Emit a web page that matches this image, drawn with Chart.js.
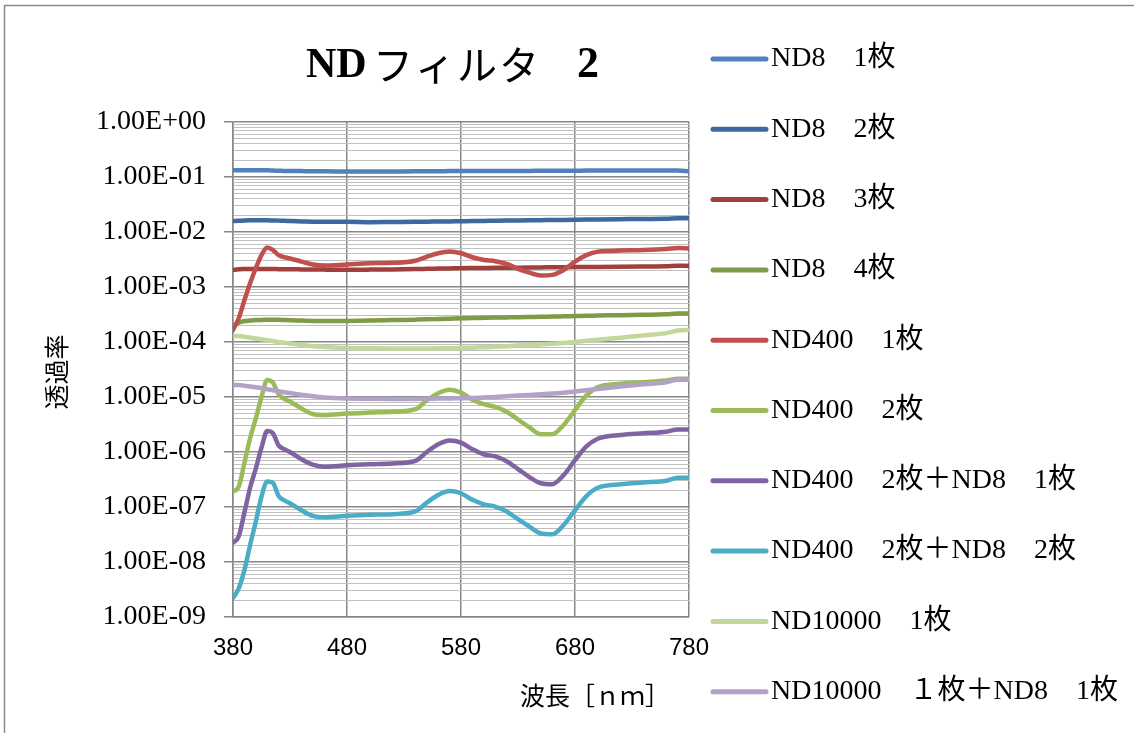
<!DOCTYPE html>
<html lang="ja">
<head>
<meta charset="utf-8">
<title>NDフィルタ2</title>
<script src="https://cdn.jsdelivr.net/npm/chart.js@4.4.1/dist/chart.umd.min.js"></script>
<style>
  html, body { margin: 0; padding: 0; background: #fff; }
</style>
</head>
<body>
<canvas id="ndChart" width="1134" height="733"></canvas>
<script>
// wavelength [nm]
const wavelengths = [380, 385, 390, 395, 400, 405, 410, 415, 420, 425, 430, 440, 450, 460, 480, 500, 520, 540, 550, 560, 570, 580, 590, 600, 610, 620, 630, 640, 650, 660, 670, 680, 690, 700, 720, 740, 760, 770, 780];

const seriesNames = [
  "ND8　1枚",
  "ND8　2枚",
  "ND8　3枚",
  "ND8　4枚",
  "ND400　1枚",
  "ND400　2枚",
  "ND400　2枚＋ND8　1枚",
  "ND400　2枚＋ND8　2枚",
  "ND10000　1枚",
  "ND10000　１枚＋ND8　1枚",
];
const seriesColors = ["#4F81BD", "#3F689C", "#A03F3C", "#7F9B45", "#C0504D", "#9BBB59", "#8064A2", "#4BACC6", "#C3D69B", "#B3A2C7"];

// transmittance
const nd8x1 = [0.133, 0.133, 0.133, 0.133, 0.133, 0.132, 0.132, 0.131, 0.130, 0.129, 0.129, 0.128, 0.127, 0.127, 0.126, 0.126, 0.126, 0.127, 0.127, 0.127, 0.128, 0.128, 0.128, 0.128, 0.128, 0.129, 0.129, 0.129, 0.130, 0.130, 0.130, 0.130, 0.131, 0.131, 0.131, 0.131, 0.131, 0.131, 0.127];
const nd8x2 = [0.0158, 0.0160, 0.0162, 0.0163, 0.0163, 0.0163, 0.0163, 0.0162, 0.0161, 0.0160, 0.0158, 0.0156, 0.0154, 0.0153, 0.0153, 0.0151, 0.0152, 0.0153, 0.0154, 0.0155, 0.0156, 0.0157, 0.0158, 0.0159, 0.0160, 0.0161, 0.0162, 0.0163, 0.0164, 0.0165, 0.0166, 0.0167, 0.0168, 0.0169, 0.0171, 0.0173, 0.0174, 0.0178, 0.0178];
const nd8x3 = [0.00205, 0.00210, 0.00212, 0.00213, 0.00213, 0.00213, 0.00212, 0.00212, 0.00211, 0.00211, 0.00210, 0.00209, 0.00208, 0.00207, 0.00206, 0.00207, 0.00209, 0.00212, 0.00214, 0.00216, 0.00218, 0.00220, 0.00221, 0.00222, 0.00223, 0.00224, 0.00225, 0.00226, 0.00227, 0.00228, 0.00229, 0.00230, 0.00231, 0.00232, 0.00234, 0.00236, 0.00238, 0.00243, 0.00242];
const nd8x4 = [1.9e-4, 2.25e-4, 2.4e-4, 2.45e-4, 2.5e-4, 2.52e-4, 2.55e-4, 2.55e-4, 2.53e-4, 2.5e-4, 2.48e-4, 2.45e-4, 2.42e-4, 2.4e-4, 2.42e-4, 2.45e-4, 2.5e-4, 2.55e-4, 2.58e-4, 2.62e-4, 2.66e-4, 2.7e-4, 2.72e-4, 2.75e-4, 2.78e-4, 2.8e-4, 2.82e-4, 2.85e-4, 2.88e-4, 2.9e-4, 2.93e-4, 2.96e-4, 3.0e-4, 3.02e-4, 3.08e-4, 3.12e-4, 3.18e-4, 3.3e-4, 3.3e-4];
const nd400x1 = [1.66e-4, 2.7e-4, 5.75e-4, 1.17e-3, 2.19e-3, 3.8e-3, 5.25e-3, 4.7e-3, 3.8e-3, 3.47e-3, 3.3e-3, 2.9e-3, 2.57e-3, 2.45e-3, 2.57e-3, 2.7e-3, 2.75e-3, 3.0e-3, 3.55e-3, 4.1e-3, 4.4e-3, 4.1e-3, 3.47e-3, 3.1e-3, 2.95e-3, 2.63e-3, 2.14e-3, 1.82e-3, 1.62e-3, 1.66e-3, 2.04e-3, 2.9e-3, 3.8e-3, 4.4e-3, 4.6e-3, 4.7e-3, 4.9e-3, 5.1e-3, 5.0e-3];
const nd400x2 = [1.91e-7, 2.34e-7, 6.3e-7, 1.78e-6, 4.07e-6, 1.0e-5, 2.04e-5, 1.82e-5, 1.12e-5, 9.3e-6, 8.3e-6, 6.2e-6, 4.9e-6, 4.7e-6, 5.0e-6, 5.2e-6, 5.4e-6, 6.0e-6, 8.7e-6, 1.17e-5, 1.35e-5, 1.2e-5, 8.9e-6, 7.4e-6, 6.6e-6, 5.4e-6, 3.9e-6, 2.8e-6, 2.1e-6, 2.1e-6, 3.1e-6, 5.8e-6, 1.07e-5, 1.51e-5, 1.74e-5, 1.86e-5, 2.0e-5, 2.14e-5, 2.14e-5];
const nd400x2nd8x1 = [2.24e-8, 2.9e-8, 7.9e-8, 2.24e-7, 5.0e-7, 1.2e-6, 2.4e-6, 2.19e-6, 1.32e-6, 1.12e-6, 1.0e-6, 7.4e-7, 5.9e-7, 5.4e-7, 5.75e-7, 6.0e-7, 6.2e-7, 6.9e-7, 1.0e-6, 1.38e-6, 1.62e-6, 1.48e-6, 1.12e-6, 9.1e-7, 8.3e-7, 6.8e-7, 4.9e-7, 3.5e-7, 2.7e-7, 2.6e-7, 3.8e-7, 7.1e-7, 1.26e-6, 1.74e-6, 2.04e-6, 2.19e-6, 2.34e-6, 2.57e-6, 2.57e-6];
const nd400x2nd8x2 = [2.2e-9, 3.3e-9, 7.1e-9, 2.04e-8, 5.4e-8, 1.55e-7, 2.9e-7, 2.75e-7, 1.58e-7, 1.32e-7, 1.17e-7, 8.7e-8, 6.9e-8, 6.5e-8, 6.9e-8, 7.2e-8, 7.4e-8, 8.3e-8, 1.2e-7, 1.66e-7, 1.95e-7, 1.78e-7, 1.35e-7, 1.12e-7, 1.02e-7, 8.3e-8, 6.0e-8, 4.4e-8, 3.3e-8, 3.2e-8, 4.7e-8, 8.7e-8, 1.58e-7, 2.24e-7, 2.6e-7, 2.8e-7, 3.0e-7, 3.4e-7, 3.4e-7];
const nd10000x1 = [1.28e-4, 1.28e-4, 1.25e-4, 1.2e-4, 1.16e-4, 1.12e-4, 1.08e-4, 1.04e-4, 1.0e-4, 9.7e-5, 9.4e-5, 8.8e-5, 8.4e-5, 8.1e-5, 7.8e-5, 7.7e-5, 7.6e-5, 7.6e-5, 7.6e-5, 7.7e-5, 7.7e-5, 7.8e-5, 7.9e-5, 8.0e-5, 8.2e-5, 8.4e-5, 8.6e-5, 8.8e-5, 9.0e-5, 9.3e-5, 9.6e-5, 1.0e-4, 1.05e-4, 1.1e-4, 1.2e-4, 1.32e-4, 1.45e-4, 1.62e-4, 1.65e-4];
const nd10000x1nd8x1 = [1.65e-5, 1.66e-5, 1.6e-5, 1.55e-5, 1.5e-5, 1.45e-5, 1.38e-5, 1.33e-5, 1.28e-5, 1.22e-5, 1.18e-5, 1.1e-5, 1.03e-5, 9.8e-6, 9.4e-6, 9.3e-6, 9.2e-6, 9.2e-6, 9.3e-6, 9.4e-6, 9.4e-6, 9.5e-6, 9.6e-6, 9.8e-6, 1.0e-5, 1.03e-5, 1.06e-5, 1.09e-5, 1.12e-5, 1.16e-5, 1.2e-5, 1.26e-5, 1.33e-5, 1.4e-5, 1.55e-5, 1.7e-5, 1.85e-5, 2.05e-5, 2.05e-5];

const allSeries = [nd8x1, nd8x2, nd8x3, nd8x4, nd400x1, nd400x2, nd400x2nd8x1, nd400x2nd8x2, nd10000x1, nd10000x1nd8x1];

// y axis decades 1e-9 .. 1e0
const minExp = -9;
const maxExp = 0;

const serif = '"Liberation Serif", "Noto Sans CJK JP", serif';
const cjk = '"Noto Sans CJK JP", sans-serif';

function sciLabel(v) {
  const e = Math.round(Math.log10(v));
  const a = Math.abs(e);
  return "1.00E" + (e < 0 ? "-" : "+") + (a < 10 ? "0" : "") + a;
}

const decorations = {
  id: "decorations",
  afterDraw(chart) {
    const c = chart.ctx;
    c.save();

    // outer frame
    c.strokeStyle = "#8a8a8a";
    c.lineWidth = 1.5;
    c.strokeRect(4.5, 5.5, 1140, 740);

    // title: latin part in bold serif, kana in CJK
    c.fillStyle = "#000";
    c.textBaseline = "middle";
    c.textAlign = "left";
    c.font = "bold 42px " + serif;
    c.fillText("ND", 306, 66);
    c.font = "40px " + cjk;
    c.letterSpacing = "2px";
    c.fillText("フィルタ", 373, 65);
    c.letterSpacing = "0px";
    c.font = "bold 44px " + serif;
    c.textAlign = "center";
    c.fillText("2", 588, 66);

    // axis titles
    c.font = "25px " + cjk;
    c.fillText("波長［ｎｍ］", 595, 695);
    c.save();
    c.translate(56, 372);
    c.rotate(-Math.PI / 2);
    c.fillText("透過率", 0, 0);
    c.restore();

    // legend
    c.textAlign = "left";
    c.font = "28px " + serif;
    c.lineCap = "round";
    chart.data.datasets.forEach((ds, i) => {
      const y = 59 + i * 70.3;
      c.strokeStyle = ds.borderColor;
      c.lineWidth = 5;
      c.beginPath();
      c.moveTo(713, y);
      c.lineTo(766, y);
      c.stroke();
      c.fillStyle = "#000";
      c.fillText(ds.label, 771, y);
    });
    c.restore();
  },
};

const ctx = document.getElementById("ndChart").getContext("2d");
const ndChart = new Chart(ctx, {
  type: "line",
  data: {
    datasets: allSeries.map((values, i) => ({
      label: seriesNames[i],
      data: values.map((v, j) => ({ x: wavelengths[j], y: v })),
      borderColor: seriesColors[i],
      backgroundColor: seriesColors[i],
      order: allSeries.length - i, // later series on top
    })),
  },
  options: {
    responsive: false,
    animation: false,
    layout: {
      padding: { left: 0, top: 122, right: 445, bottom: 0 },
    },
    elements: {
      point: { radius: 0 },
      line: {
        borderWidth: 4.5,
        borderCapStyle: "round",
        borderJoinStyle: "round",
        cubicInterpolationMode: "monotone",
      },
    },
    plugins: {
      legend: { display: false },
      title: { display: false },
      tooltip: { enabled: false },
    },
    scales: {
      x: {
        type: "linear",
        min: 380,
        max: 780,
        ticks: {
          stepSize: 100,
          padding: 17,
          color: "#000",
          maxRotation: 0,
          font: { family: '"Liberation Sans", Arial, sans-serif', size: 24 },
        },
        grid: { color: "#878787", lineWidth: 1.5, drawTicks: false },
        border: { color: "#878787", width: 1.5 },
        afterFit(scale) {
          scale.height = 116;
          scale.paddingLeft = 0;
          scale.paddingRight = 0;
        },
      },
      y: {
        type: "logarithmic",
        min: Math.pow(10, minExp),
        max: Math.pow(10, maxExp),
        afterBuildTicks(scale) {
          const ticks = [];
          for (let e = minExp; e <= maxExp; e++) {
            for (let k = 1; k <= 9; k++) {
              if (e === maxExp && k > 1) break;
              ticks.push({ value: k * Math.pow(10, e), major: k === 1 });
            }
          }
          scale.ticks = ticks;
        },
        ticks: {
          autoSkip: false,
          padding: 18,
          color: "#000",
          font: { family: serif, size: 28 },
          callback: (v, i, ticks) => (ticks[i].major ? sciLabel(v) : ""),
        },
        grid: {
          color: (c) => (c.tick && c.tick.major ? "#878787" : "#c0c0c0"),
          lineWidth: (c) => (c.tick && c.tick.major ? 1.5 : 1),
          tickLength: 9,
          tickColor: (c) => (c.tick && c.tick.major ? "#878787" : "rgba(0,0,0,0)"),
        },
        border: { color: "#878787", width: 1.5 },
        afterFit(scale) {
          scale.width = 233;
          scale.paddingTop = 0;
          scale.paddingBottom = 0;
        },
      },
    },
  },
  plugins: [decorations],
});
</script>
</body>
</html>
